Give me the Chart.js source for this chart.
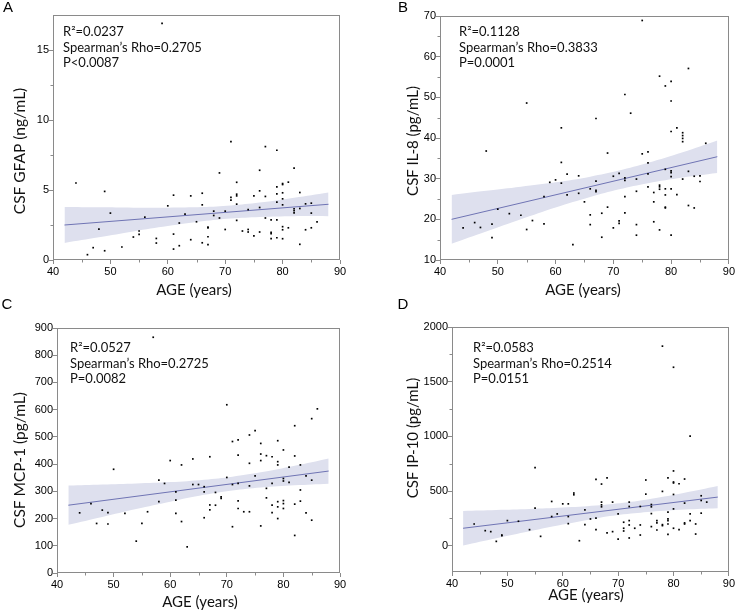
<!DOCTYPE html>
<html>
<head>
<meta charset="utf-8">
<script src="https://cdn.jsdelivr.net/npm/chart.js@4.4.1/dist/chart.umd.min.js"></script>
<style>
  html, body { margin: 0; padding: 0; background: #fff; }
  #fig { position: relative; width: 736px; height: 610px; overflow: hidden; }
  canvas { position: absolute; }
</style>
</head>
<body>
<div id="fig">
  <canvas id="cA" width="368" height="305" style="left:0;top:0"></canvas>
  <canvas id="cB" width="368" height="305" style="left:368px;top:0"></canvas>
  <canvas id="cC" width="368" height="320" style="left:0;top:290px"></canvas>
  <canvas id="cD" width="368" height="320" style="left:368px;top:290px"></canvas>
</div>
<script>
// ---- data: [age, value] ----
const gfapPts = [[59,16.9],[44,5.5],[49,4.9],[50,3.35],[48,2.2],[46,0.38],[47,0.88],[49,0.66],[52,0.93],[54,1.64],
  [55,2.07],[55,1.83],[56,3.06],[58,1.54],[58,1.21],[60,3.87],[61,4.63],[61,1.85],[61,0.78],[62,2.64],
  [62,1.02],[63,3.28],[64,4.58],[64,1.45],[65,2.73],[66,4.77],[66,3.94],[66,1.23],[67,2.35],[67,2.3],
  [67,1.66],[67,1.1],[68,3.49],[68,3.18],[69,6.22],[69,3.0],[70,3.49],[70,2.18],[71,8.45],[71,4.47],
  [71,4.28],[72,5.55],[72,4.7],[72,4.58],[72,3.99],[72,2.83],[73,2.07],[74,3.6],[74,2.18],[74,2.0],
  [75,4.58],[75,1.73],[76,6.41],[76,4.94],[76,3.75],[76,2.0],[77,8.1],[77,4.54],[77,3.0],[78,2.87],
  [78,1.97],[78,1.88],[78,1.52],[79,7.84],[79,5.23],[79,4.73],[79,4.13],[79,2.87],[79,1.59],[80,5.46],
  [80,5.39],[80,4.8],[80,4.37],[80,3.94],[80,2.38],[80,2.16],[80,1.52],[81,5.56],[81,2.3],[82,6.56],
  [82,3.66],[82,3.52],[82,3.37],[83,4.82],[83,3.68],[83,1.12],[84,4.01],[84,2.16],[85,4.06],[85,3.35],
  [85,2.3],[86,2.73]];
const il8Pts = [[75,68.9],[44,17.9],[46,19.2],[47,18.0],[48,36.8],[49,18.8],[49,15.5],[50,22.5],[52,21.4],[54,21.0],
  [55,48.6],[55,17.5],[56,19.7],[58,25.6],[58,18.9],[59,29.1],[60,29.7],[61,42.5],[61,34.0],[61,28.9],
  [62,31.1],[62,26.0],[63,13.8],[64,30.7],[64,26.4],[65,24.3],[66,27.5],[66,21.1],[66,18.7],[67,44.8],
  [67,29.4],[67,27.1],[67,26.8],[68,21.5],[68,15.6],[69,36.3],[69,23.0],[70,30.6],[70,17.9],[71,31.3],
  [71,19.6],[71,19.0],[72,50.7],[72,30.2],[72,29.6],[72,25.6],[72,21.6],[73,46.1],[74,29.9],[74,26.9],
  [74,18.7],[74,16.1],[75,36.1],[76,36.6],[76,33.9],[76,31.2],[76,28.0],[77,26.6],[77,24.3],[77,19.4],
  [78,55.2],[78,28.4],[78,28.0],[78,27.4],[78,17.4],[79,52.8],[79,32.3],[79,27.5],[79,26.0],[79,23.0],
  [79,22.8],[80,53.9],[80,49.1],[80,41.6],[80,31.9],[80,31.5],[80,30.5],[80,27.5],[80,16.1],[81,42.5],
  [81,26.1],[82,41.3],[82,40.6],[82,39.9],[82,39.1],[82,29.9],[83,57.1],[83,31.8],[83,23.4],[84,30.6],
  [84,22.8],[85,30.7],[85,29.3],[86,38.7]];
const mcp1Pts = [[44,221],[46,255],[47,182],[48,231],[49,222],[49,180],[50,381],[52,219],[54,117],[55,182],
  [56,225],[57,866],[58,341],[58,262],[59,329],[60,413],[61,298],[61,268],[61,219],[62,397],
  [62,189],[63,96],[64,325],[64,419],[65,325],[66,317],[66,298],[66,203],[67,427],[67,250],
  [67,232],[68,296],[68,249],[69,280],[69,274],[70,618],[70,351],[71,325],[71,483],[71,170],
  [72,489],[72,433],[72,329],[72,265],[72,237],[73,225],[74,507],[74,403],[74,320],[74,225],
  [75,523],[75,357],[76,476],[76,437],[76,413],[76,173],[77,431],[77,311],[77,276],[78,427],
  [78,329],[78,249],[78,222],[79,486],[79,409],[79,397],[79,262],[79,243],[79,200],[80,452],
  [80,347],[80,338],[80,266],[80,255],[80,237],[81,389],[81,333],[82,541],[82,430],[82,253],
  [82,138],[83,397],[83,305],[83,264],[84,357],[84,221],[85,567],[85,341],[85,194],[86,603]];
const ip10Pts = [[78,1825],[80,1632],[83,1003],[55,715],[44,199],[46,138],[47,129],[48,40],[49,92],[49,98],
  [50,230],[52,224],[54,147],[55,344],[56,86],[58,405],[58,267],[59,291],[60,383],[61,383],
  [61,267],[61,202],[62,482],[62,466],[63,46],[64,328],[64,193],[65,245],[66,607],[66,252],
  [66,147],[67,564],[67,399],[67,374],[67,356],[68,620],[68,117],[69,399],[69,129],[70,291],
  [70,61],[71,215],[71,160],[71,135],[72,399],[72,359],[72,230],[72,190],[72,71],[73,160],
  [74,359],[74,190],[74,98],[75,601],[75,472],[76,377],[76,356],[76,294],[76,175],[77,230],
  [77,209],[77,144],[78,497],[78,193],[78,184],[79,620],[79,307],[79,245],[79,230],[79,199],
  [79,104],[80,684],[80,583],[80,574],[80,469],[80,337],[80,160],[81,567],[81,147],[82,610],
  [82,390],[82,209],[82,199],[83,291],[83,230],[84,199],[84,107],[85,457],[85,414],[85,298],
  [86,399]];

// regression lines and 95% bands (read at these ages)
const fitAge  = [42, 88];
const bandAge = [42, 48, 54, 60, 66, 71, 76, 82, 88];
const fitA = [2.50, 3.98];
const upA = [3.78, 3.76, 3.74, 3.74, 3.78, 3.90, 4.10, 4.45, 4.83];
const loA = [1.22, 1.62, 2.04, 2.42, 2.76, 2.96, 3.08, 3.13, 3.13];
const fitB = [20.0, 35.4];
const upB = [26.0, 27.0, 28.0, 29.1, 30.5, 32.0, 33.9, 36.5, 39.4];
const loB = [14.0, 17.0, 20.0, 22.9, 25.5, 27.4, 28.9, 30.3, 31.4];
const fitC = [249, 374.5];
const upC = [321, 325, 329, 334, 343, 354, 370, 394, 421];
const loC = [177, 206, 235, 262, 287, 303, 314, 322, 328];
const fitD = [160, 445];
const upD = [318, 327, 336, 349, 368, 393, 430, 485, 547];
const loD = [2, 68, 132, 194, 250, 287, 312, 331, 343];

const xTicks = [40, 50, 60, 70, 80, 90];

// ---- helpers ----
const xy = (xs, ys) => xs.map((x, i) => ({ x, y: ys[i] }));
const pts = arr => arr.map(([x, y]) => ({ x, y }));

// frame, minor ticks and all the text
const deco = {
  id: 'deco',
  afterDraw(chart, args, o) {
    const { ctx, chartArea: a, scales: { x, y } } = chart;
    ctx.save();
    ctx.strokeStyle = '#8a8a8a';
    ctx.lineWidth = 1;
    ctx.strokeRect(Math.round(a.left) + .5, Math.round(a.top) + .5,
      Math.round(a.right - a.left) - 1, Math.round(a.bottom - a.top) - 1);
    ctx.beginPath();
    o.minorX.forEach(v => {
      const px = Math.round(x.getPixelForValue(v)) + .5;
      ctx.moveTo(px, a.bottom); ctx.lineTo(px, a.bottom + 2.5);
    });
    o.minorY.forEach(v => {
      const py = Math.round(y.getPixelForValue(v)) + .5;
      ctx.moveTo(a.left, py); ctx.lineTo(a.left - 2.5, py);
    });
    ctx.stroke();

    ctx.fillStyle = '#111';
    ctx.textBaseline = 'middle';
    ctx.font = '13px Lato';
    o.notes.forEach((t, i) => ctx.fillText(t, a.left + o.noteAt[0], a.top + o.noteAt[1] + i * 15.6));

    ctx.textAlign = 'center';
    ctx.font = '15px Lato';
    ctx.fillText('AGE (years)', o.xTitle[0], o.xTitle[1]);
    ctx.save();
    ctx.translate(o.yTitle[0], o.yTitle[1]);
    ctx.rotate(-Math.PI / 2);
    ctx.font = o.yFont + 'px Lato';
    ctx.fillText(o.yText, 0, 0);
    ctx.restore();

    ctx.font = '15px "Liberation Sans"';
    ctx.fillStyle = '#000';
    ctx.fillText(o.letter, o.letterAt[0], o.letterAt[1]);
    ctx.restore();
  }
};

function panel(id, p) {
  const W = p.size[0], H = p.size[1];
  const [L, T, R, B] = p.plot;
  const tickFont = { family: 'Liberation Sans', size: 11 };
  new Chart(document.getElementById(id), {
    type: 'line',
    data: {
      datasets: [
        { data: pts(p.points), showLine: false, pointStyle: 'rect', pointRadius: 1.2,
          pointBackgroundColor: '#000', pointBorderWidth: 0, order: 0 },
        { data: xy(fitAge, p.fit), borderColor: '#6f74b4', borderWidth: 1, pointRadius: 0, order: 1 },
        { data: xy(bandAge, p.up), borderWidth: 0, pointRadius: 0, tension: 0.4,
          fill: '+1', backgroundColor: '#dee0ee', order: 2 },
        { data: xy(bandAge, p.lo), borderWidth: 0, pointRadius: 0, tension: 0.4, fill: false, order: 3 }
      ]
    },
    options: {
      responsive: false,
      animation: false,
      events: [],
      layout: { padding: { left: 0, top: T, right: W - R, bottom: 0 } },
      plugins: { legend: { display: false }, tooltip: { enabled: false }, deco: p.deco },
      scales: {
        x: {
          type: 'linear', min: 40, max: 90,
          afterBuildTicks: s => { s.ticks = xTicks.map(v => ({ value: v })); },
          afterFit: s => { s.height = H - B; },
          border: { display: false },
          grid: { drawOnChartArea: false, tickLength: 4, color: '#8a8a8a' },
          ticks: { padding: 1, maxRotation: 0, color: '#000', font: tickFont, callback: v => String(v) }
        },
        y: {
          min: p.yRange[0], max: p.yRange[1],
          afterBuildTicks: s => { s.ticks = p.yTicks.map(v => ({ value: v })); },
          afterFit: s => { s.width = L; },
          border: { display: false },
          grid: { drawOnChartArea: false, tickLength: 4, color: '#8a8a8a' },
          ticks: { padding: 0, color: '#000', font: tickFont, callback: v => String(v) }
        }
      }
    },
    plugins: [deco]
  });
}

panel('cA', {
  size: [368, 305], plot: [53, 15, 340, 260],
  points: gfapPts, fit: fitA, up: upA, lo: loA,
  yRange: [0, 17.5], yTicks: [0, 5, 10, 15],
  deco: { minorX: [45, 55, 65, 75, 85], minorY: [2.5, 7.5, 12.5],
    notes: ['R\u00b2=0.0237', 'Spearman\u2019s Rho=0.2705', 'P<0.0087'], noteAt: [10, 17],
    xTitle: [194, 290], yTitle: [20, 151], yFont: 15.5, yText: 'CSF GFAP (ng/mL)', letter: 'A', letterAt: [8, 8] }
});
panel('cB', {
  size: [368, 305], plot: [72, 16, 362, 260],
  points: il8Pts, fit: fitB, up: upB, lo: loB,
  yRange: [10, 70], yTicks: [10, 20, 30, 40, 50, 60, 70],
  deco: { minorX: [45, 55, 65, 75, 85], minorY: [15, 25, 35, 45, 55, 65],
    notes: ['R\u00b2=0.1128', 'Spearman\u2019s Rho=0.3833', 'P=0.0001'], noteAt: [19, 16],
    xTitle: [215, 290], yTitle: [45, 141], yFont: 15, yText: 'CSF IL-8 (pg/mL)', letter: 'B', letterAt: [35, 8] }
});
panel('cC', {
  size: [368, 320], plot: [57, 38, 340, 283],
  points: mcp1Pts, fit: fitC, up: upC, lo: loC,
  yRange: [0, 900], yTicks: [0, 100, 200, 300, 400, 500, 600, 700, 800, 900],
  deco: { minorX: [45, 55, 65, 75, 85], minorY: [],
    notes: ['R\u00b2=0.0527', 'Spearman\u2019s Rho=0.2725', 'P=0.0082'], noteAt: [13, 20],
    xTitle: [200, 312], yTitle: [20, 170], yFont: 15.5, yText: 'CSF MCP-1 (pg/mL)', letter: 'C', letterAt: [7, 15] }
});
panel('cD', {
  size: [368, 320], plot: [84, 37, 362, 282],
  points: ip10Pts, fit: fitD, up: upD, lo: loD,
  yRange: [-240, 2000], yTicks: [0, 500, 1000, 1500, 2000],
  deco: { minorX: [45, 55, 65, 75, 85], minorY: [250, 750, 1250, 1750],
    notes: ['R\u00b2=0.0583', 'Spearman\u2019s Rho=0.2514', 'P=0.0151'], noteAt: [21, 21],
    xTitle: [218, 305], yTitle: [45, 148], yFont: 15, yText: 'CSF IP-10 (pg/mL)', letter: 'D', letterAt: [35, 15] }
});
</script>
</body>
</html>
